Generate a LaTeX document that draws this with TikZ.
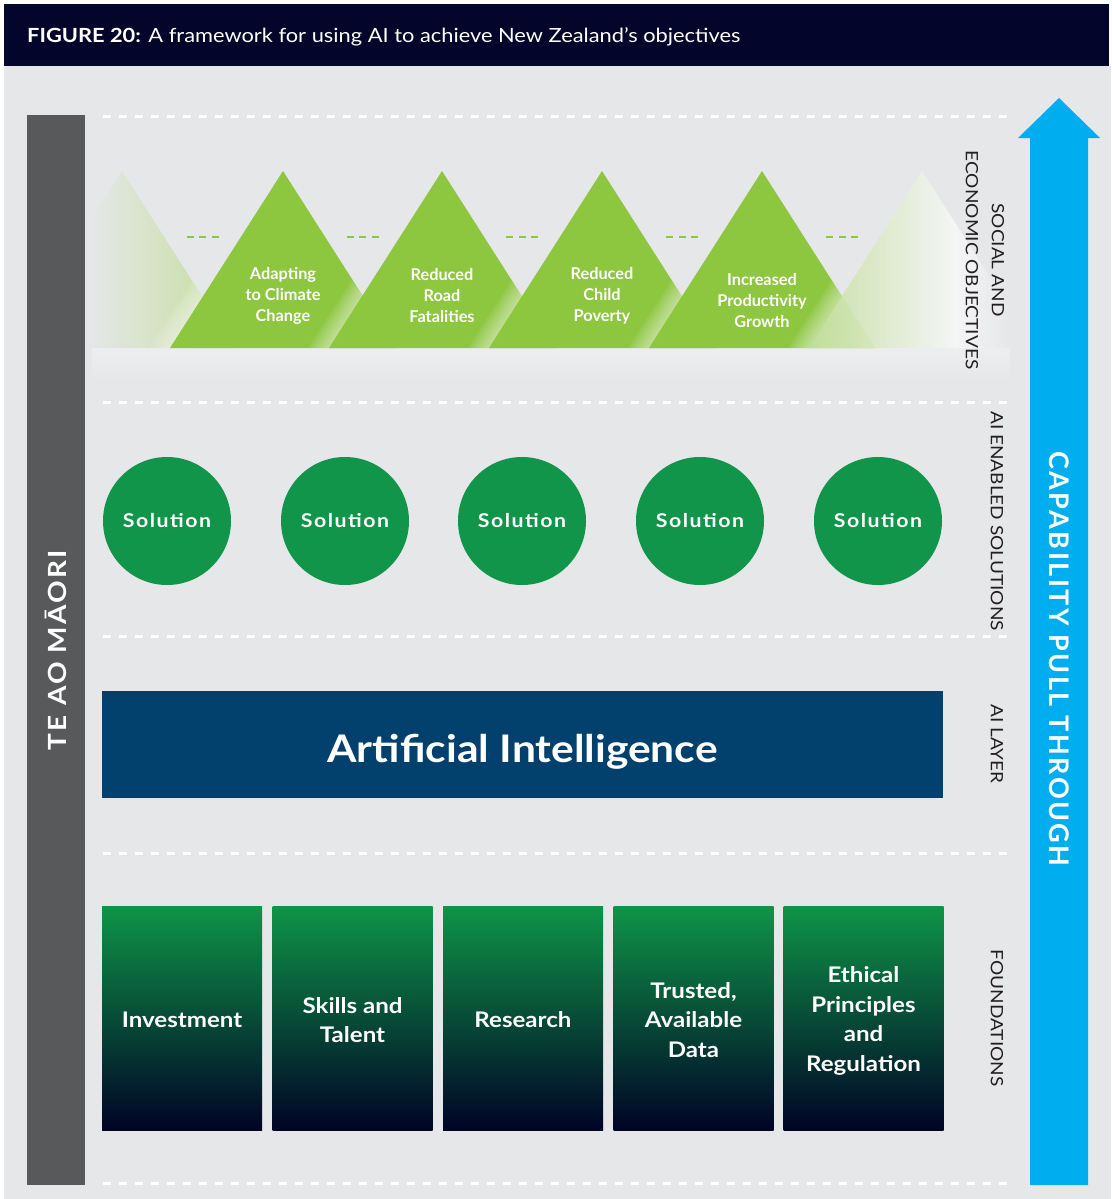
\documentclass[tikz,border=0pt]{standalone}
\usepackage{fontspec}
\setmainfont[FakeStretch=1.12]{Lato}
\newfontfamily\narrowfont{Lato}
\newfontfamily\solfont[LetterSpace=8,FakeStretch=1.12]{Lato}
\newfontfamily\widefont[LetterSpace=9]{Lato}
\newfontfamily\widestretch[LetterSpace=9,FakeStretch=1.12]{Lato}
\definecolor{bg}{HTML}{E6E7E9}
\definecolor{hdr}{HTML}{03062A}
\definecolor{barg}{HTML}{58595B}
\definecolor{capblue}{HTML}{00AEEF}
\definecolor{trig}{HTML}{8DC63F}
\definecolor{trilight}{HTML}{C2DE9A}
\definecolor{solg}{HTML}{10954A}
\definecolor{aiblue}{HTML}{02416D}
\definecolor{fgreen}{HTML}{0F9447}
\definecolor{fmid}{HTML}{02594E}
\definecolor{fnavy}{HTML}{000326}
\definecolor{lbl}{HTML}{231F20}
\begin{document}
\begin{tikzpicture}[x=1pt,y=-1pt,
  sep/.style={white, line width=3pt, dash pattern=on 8pt off 8pt},
  tridash/.style={trig, line width=2.5pt, dash pattern=on 7pt off 5.5pt},
  trilabel/.style={text=white, align=center, inner sep=0, font=\narrowfont\fontsize{16.3}{21}\selectfont\bfseries},
  solbox/.style={circle, fill=solg, minimum size=128pt, inner sep=0, text=white, font=\solfont\fontsize{19}{22}\selectfont\bfseries},
  foundbox/.style={rectangle, minimum width=160pt, minimum height=224pt, inner sep=0, top color=fgreen, middle color=fmid, bottom color=fnavy},
  foundlabel/.style={text=white, align=center, inner sep=0, font=\fontsize{21.5}{29.5}\selectfont\bfseries},
  sidelabel/.style={rotate=-90, text=lbl, align=center, inner sep=0, font=\fontsize{17}{26}\selectfont}
]
\useasboundingbox (0,0) rectangle (1111,1199);
\fill[white] (0,0) rectangle (1111,1199);
\fill[bg] (4,66) rectangle (1111,1199);
% header
\node[fill=hdr, minimum width=1105pt, minimum height=62pt, inner sep=0, anchor=north west] (header) at (4,4) {};
\node[anchor=base west, text=white, inner sep=0, font=\fontsize{19.5}{22}\selectfont] (title) at (27,43) {\textbf{FIGURE 20:} A framework for using AI to achieve New Zealand’s objectives};

% separators
\foreach \yy in {116,402,636,853,1183} \draw[sep] (103,\yy) -- (1007,\yy);

% haze under triangles
\shade[top color=white, bottom color=bg, opacity=0.3] (92,348) rectangle (1010,385);

% left faded triangle
\begin{scope}
  \clip (9,348) -- (122,171) -- (235,348) -- cycle;
  \shade[left color=bg, right color=trilight] (88,171) rectangle (235,348);
\end{scope}
% solid triangles with a white glow on the one behind
\foreach \p/\x in {122/283, 283/442, 442/602, 602/762} {
  \begin{scope}
    \clip (\p-113,348) -- (\p,171) -- (\p+113,348) -- cycle;
    \foreach \s in {3,6,...,21}
      \fill[white, opacity=0.08] (\x-113-\s,348) -- (\x-\s,171) -- (\x+113-\s,348) -- cycle;
  \end{scope}
  \fill[trig] (\x-113,348) -- (\x,171) -- (\x+113,348) -- cycle;
}
% right faded triangle
\begin{scope}
  \clip (649,348) -- (762,171) -- (875,348) -- cycle;
  \foreach \s in {3,6,...,21}
    \fill[white, opacity=0.08] (809-\s,348) -- (922-\s,171) -- (1035-\s,348) -- cycle;
\end{scope}
\begin{scope}
  \clip (809,348) -- (922,171) -- (1035,348) -- cycle;
  \shade[left color=trilight, right color=white!70!bg, opacity=0.85] (809,171) rectangle (955,348);
  \shade[left color=white!70!bg, right color=bg, opacity=0.85] (955,171) rectangle (1012,348);
\end{scope}

% green dashes between peaks
\foreach \m in {202.5, 362.5, 522, 682, 842}
  \draw[tridash] (\m-16,237) -- (\m+16,237);

% objective labels
\node[trilabel] (obj1) at (283,296) {Adapting\\to Climate\\Change};
\node[trilabel] (obj2) at (442,296) {Reduced\\Road\\Fatalities};
\node[trilabel] (obj3) at (602,296) {Reduced\\Child\\Poverty};
\node[trilabel] (obj4) at (762,301) {Increased\\Productivity\\Growth};

% solutions
\foreach \i/\x in {1/167, 2/345, 3/522, 4/700, 5/878}
  \node[solbox] (sol\i) at (\x,521) {Solution};

% AI layer
\node[rectangle, fill=aiblue, minimum width=841pt, minimum height=107pt, inner sep=0] (ai) at (522.5,744.5) {};
\node[text=white, inner sep=0, text depth=0pt, font=\fontsize{38}{40}\selectfont\bfseries] (ailabel) at (522.5,748) {Artificial Intelligence};

% foundations
\foreach \i/\x in {1/182, 2/352.5, 3/523, 4/693.5, 5/863.5}
  \node[foundbox] (f\i) at (\x,1018) {};
\node[foundlabel] (f1t) at (182,1020) {Investment};
\node[foundlabel] (f2t) at (352.5,1020) {Skills and\\Talent};
\node[foundlabel] (f3t) at (523,1020) {Research};
\node[foundlabel] (f4t) at (693.5,1020) {Trusted,\\Available\\Data};
\node[foundlabel] (f5t) at (863.5,1021) {Ethical\\Principles\\and\\Regulation};

% left bar
\node[rotate=90, fill=barg, minimum width=1070pt, minimum height=58pt, inner sep=0, text=white, font=\widestretch\fontsize{25}{28}\selectfont\bfseries] (teao) at (56,650) {TE AO MĀORI};

% right labels
\node[sidelabel] (lblsoc) at (985,260) {SOCIAL AND\\ECONOMIC OBJECTIVES};
\node[sidelabel] (lblsol) at (997,521) {AI ENABLED SOLUTIONS};
\node[sidelabel] (lblai) at (997,744) {AI LAYER};
\node[sidelabel] (lblfound) at (997,1018) {FOUNDATIONS};

% capability arrow
\fill[capblue] (1030,1185) -- (1030,138) -- (1018,138) -- (1059,98) -- (1100,138) -- (1088,138) -- (1088,1185) -- cycle;
\node[rotate=-90, text=white, inner sep=0, font=\widefont\fontsize{27}{30}\selectfont\bfseries] (cap) at (1059,659) {CAPABILITY PULL THROUGH};
\end{tikzpicture}
\end{document}
